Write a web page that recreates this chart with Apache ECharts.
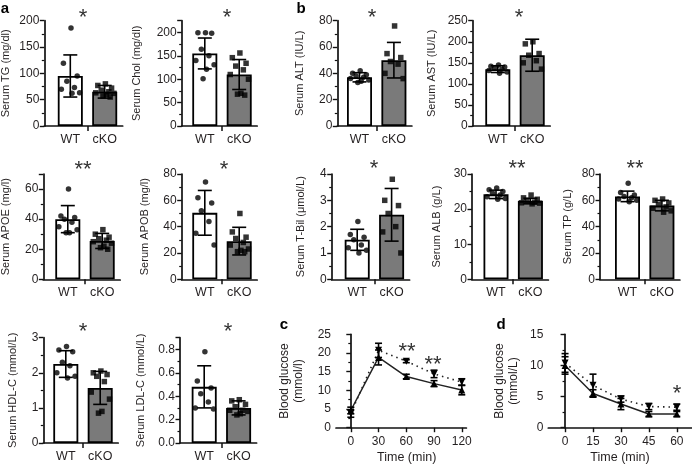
<!DOCTYPE html>
<html><head><meta charset="utf-8">
<script src="https://cdn.jsdelivr.net/npm/echarts@6/dist/echarts.min.js"></script>
<style>html,body{margin:0;padding:0;background:#fff}#c{width:692px;height:465px}</style>
</head><body><div id="c"></div>
<script>
// ---------------- DATA ----------------
const groups = ['WT', 'cKO'];

// panel a
const tgMean = [95, 65], tgSD = [40, 12];
const tgWT = [186, 119, 95, 85, 73, 63, 70, 62];
const tgKO = [80, 77, 72, 68, 65, 63, 62, 60, 57, 55];

const cholMean = [155, 110], cholSD = [33, 32];
const cholWT = [199, 199, 198, 164, 150, 140, 131, 121, 101];
const cholKO = [156, 146, 134, 128, 120, 110, 100, 70, 68, 66];

const apoeMean = [40, 25.5], apoeSD = [9, 5];
const apoeWT = [60, 42, 41, 40, 38, 35, 33, 31, 31];
const apoeKO = [33, 30, 28, 27, 26, 25, 24, 22, 21, 20];

const apobMean = [50.5, 29], apobSD = [17, 10.5];
const apobWT = [74, 62, 58, 52, 44, 35, 26];
const apobKO = [50, 36, 32, 31, 28, 26, 23, 22, 21, 21];

const hdlMean = [2.25, 1.57], hdlSD = [0.38, 0.47];
const hdlWT = [2.75, 2.65, 2.6, 2.3, 2.2, 2.0, 1.9, 1.85];
const hdlKO = [2.05, 2.0, 1.95, 1.9, 1.75, 1.45, 1.25, 0.85, 0.9];

const ldlMean = [0.48, 0.30], ldlSD = [0.18, 0.06];
const ldlWT = [0.78, 0.53, 0.47, 0.42, 0.35, 0.30, 0.29];
const ldlKO = [0.37, 0.36, 0.33, 0.31, 0.28, 0.27, 0.25, 0.24, 0.28];

// panel b
const altMean = [37, 50], altSD = [3.5, 13.5];
const altWT = [42, 40, 39, 38, 37, 36, 35, 34, 33];
const altKO = [76, 55, 52, 49, 47, 40, 36];

const astMean = [135, 168], astSD = [8, 38];
const astWT = [145, 142, 140, 137, 135, 132, 128, 125];
const astKO = [200, 195, 172, 168, 155, 150, 135];

const tbilMean = [1.5, 2.45], tbilSD = [0.4, 1.0];
const tbilWT = [2.2, 1.7, 1.6, 1.5, 1.3, 1.2, 1.0, 1.1];
const tbilKO = [3.8, 3.0, 2.8, 2.5, 2.0, 1.8, 1.0];

const albMean = [24.2, 22.3], albSD = [1.2, 0.8];
const albWT = [26, 25.5, 25, 24.5, 24, 23.5, 23, 22.8];
const albKO = [24, 23.2, 22.8, 22.4, 22.0, 21.8, 21.5, 21.7];

const tpMean = [63, 56], tpSD = [4, 4];
const tpWT = [73, 66, 64, 63, 62, 61, 60, 59];
const tpKO = [61, 60, 58, 57, 55, 54, 52, 51];

// panel c (glucose tolerance)
const cTime = [0, 30, 60, 90, 120];
const cTimeTicks = [0, 30, 60, 90, 120];
const cWT = [4.6, 18.8, 13.7, 11.8, 10.1], cWTsd = [0.9, 2.0, 0.6, 0.8, 1.3];
const cKO = [3.8, 20.7, 17.8, 14.4, 12.2], cKOsd = [1.0, 1.9, 0.4, 1.0, 0.9];

// panel d (insulin tolerance)
const dTime = [0, 15, 30, 45, 60];
const dTimeTicks = [0, 15, 30, 45, 60];
const dWT = [10.0, 5.5, 3.8, 2.2, 2.2], dWTsd = [1.4, 0.6, 0.9, 0.4, 0.4];
const dKO = [10.4, 6.8, 4.6, 3.4, 3.3], dKOsd = [1.5, 1.8, 0.5, 0.5, 0.5];

// ---------------- LAYOUT / STYLE ----------------
const FONT = '"Liberation Sans", Arial, sans-serif';
const TXT = '#231f20';
const AX = '#111';
const GREY = '#7a7a7a';
const UNIT = 34.4;      // px between WT and cKO bar centres
const RIGHT = 18;       // px after cKO centre
const jitter = [0.02, -0.2, 0.2, -0.1, 0.12, -0.26, 0.27, 0.05, -0.05, 0.16];

const barPanels = [
  {name:'Serum TG (mg/dl)',   mean:tgMean,  sd:tgSD,  wt:tgWT,  ko:tgKO,  max:200, step:50,  left:44.3, top:20.7, off:26.0, gap:31},
  {name:'Serum Chol (mg/dl)', mean:cholMean,sd:cholSD,wt:cholWT,ko:cholKO,max:225, step:50,  left:181.7,top:20.7, off:23.1, gap:38},
  {name:'Serum ALT (IU/L)',   mean:altMean, sd:altSD, wt:altWT, ko:altKO, max:80,  step:20,  left:337.3,top:20.7, off:22.2, gap:30},
  {name:'Serum AST (IU/L)',   mean:astMean, sd:astSD, wt:astWT, ko:astKO, max:250, step:50,  left:472.7,top:20.7, off:25.1, gap:34},
  {name:'Serum APOE (mg/l)',  mean:apoeMean,sd:apoeSD,wt:apoeWT,ko:apoeKO,max:70,  step:20,  left:43.3, top:174,  off:24.5, gap:30},
  {name:'Serum APOB (mg/l)',  mean:apobMean,sd:apobSD,wt:apobWT,ko:apobKO,max:80,  step:20,  left:181.7,top:174,  off:23.1, gap:30},
  {name:'Serum T-Bil (\u03bcmol/L)', mean:tbilMean,sd:tbilSD,wt:tbilWT,ko:tbilKO,max:4, step:1, left:331.7,top:174, off:25.5, gap:24},
  {name:'Serum ALB (g/L)',    mean:albMean, sd:albSD, wt:albWT, ko:albKO, max:30,  step:10,  left:472,  top:174,  off:24.0, gap:28},
  {name:'Serum TP (g/L)',     mean:tpMean,  sd:tpSD,  wt:tpWT,  ko:tpKO,  max:80,  step:20,  left:600,  top:174,  off:27.5, gap:25},
  {name:'Serum HDL-C (mmol/L)', mean:hdlMean,sd:hdlSD,wt:hdlWT,ko:hdlKO, max:3,   step:1,   left:43.3, top:337.7,off:22.5, gap:23},
  {name:'Serum LDL-C (mmol/L)', mean:ldlMean,sd:ldlSD,wt:ldlWT,ko:ldlKO, max:0.9, step:0.2, left:180,  top:337.7,off:24.2, gap:32, dec:1}
];
const PH = 105.3;

const stars = [
  ['*', 83, 14], ['*', 227, 14], ['*', 372, 14], ['*', 519, 14],
  ['**', 83, 166], ['*', 224, 166], ['*', 374, 165], ['**', 517, 165], ['**', 635, 165],
  ['*', 83, 328], ['*', 228, 328],
  ['**', 407, 348], ['**', 433, 361], ['*', 677, 390]
];
const letters = [['a', 5, 9], ['b', 301, 9], ['c', 284, 325], ['d', 501, 325]];

// ---------------- BUILD ----------------
function errRender(cap) {
  return function (params, api) {
    const x = api.value(0), m = api.value(1), s = api.value(2);
    const t = api.coord([x, m + s]), b = api.coord([x, m - s]);
    const st = {stroke: '#000', lineWidth: 1.6};
    return {type: 'group', children: [
      {type: 'line', shape: {x1: t[0], y1: t[1], x2: b[0], y2: b[1]}, style: st},
      {type: 'line', shape: {x1: t[0] - cap / 2, y1: t[1], x2: t[0] + cap / 2, y2: t[1]}, style: st},
      {type: 'line', shape: {x1: b[0] - cap / 2, y1: b[1], x2: b[0] + cap / 2, y2: b[1]}, style: st}
    ]};
  };
}
function yAxisBase(i, max, step, name, gap, dec) {
  return {
    gridIndex: i, type: 'value', min: 0, max: max, interval: step,
    name: name, nameLocation: 'middle', nameGap: gap, nameRotate: 90,
    nameTextStyle: {fontSize: 11, color: TXT, fontFamily: FONT, lineHeight: 14},
    axisLine: {show: true, lineStyle: {color: AX, width: 1.7}},
    axisTick: {show: true, length: 4.5, lineStyle: {color: AX, width: 1.4}},
    minorTick: {show: true, splitNumber: 2, length: 2.5, lineStyle: {color: AX, width: 1.2}},
    splitLine: {show: false}, minorSplitLine: {show: false},
    axisLabel: {fontSize: 12, color: TXT, fontFamily: FONT, margin: 5, showMaxLabel: (Math.abs(max / step - Math.round(max / step)) < 1e-9),
      formatter: v => dec ? v.toFixed(dec) : String(Math.round(v * 1000) / 1000)}
  };
}
function spread(vals, center) {
  const idx = vals.map((v, i) => i).sort((a, b) => vals[b] - vals[a]);
  const out = [];
  idx.forEach((k, r) => out.push([center + jitter[r % jitter.length], vals[k]]));
  return out;
}

const option = {animation: false, textStyle: {fontFamily: FONT}, grid: [], xAxis: [], yAxis: [], series: [], graphic: []};

barPanels.forEach((p, i) => {
  const xMin = 1 - p.off / UNIT;
  const width = p.off + UNIT + RIGHT;
  option.grid.push({left: p.left, top: p.top, width: width, height: PH, containLabel: false, outerBoundsMode: 'none'});
  option.xAxis.push({
    gridIndex: i, type: 'value', min: xMin, max: xMin + width / UNIT,
    axisLine: {show: true, onZero: false, lineStyle: {color: AX, width: 1.7}},
    axisTick: {show: true, customValues: [1.5], length: 5, lineStyle: {color: AX, width: 1.5}},
    axisLabel: {customValues: [1, 2], fontSize: 12.5, color: TXT, fontFamily: FONT, margin: 7,
      formatter: v => groups[Math.round(v) - 1] || ''},
    splitLine: {show: false}
  });
  option.yAxis.push(yAxisBase(i, p.max, p.step, p.name, p.gap, p.dec));
  option.series.push({
    type: 'bar', xAxisIndex: i, yAxisIndex: i, barWidth: 25, z: 1,
    data: p.mean.map((m, k) => ({value: [k + 1, m], itemStyle: {color: k === 0 ? '#fff' : GREY}})),
    itemStyle: {borderColor: '#000', borderWidth: 1.8}
  });
  option.series.push({
    type: 'scatter', xAxisIndex: i, yAxisIndex: i, symbol: 'circle', symbolSize: 5.5, z: 3,
    itemStyle: {color: '#000'}, data: spread(p.wt, 1)
  });
  option.series.push({
    type: 'scatter', xAxisIndex: i, yAxisIndex: i, symbol: 'rect', symbolSize: 5.5, z: 3,
    itemStyle: {color: '#000'}, data: spread(p.ko, 2)
  });
  option.series.push({
    type: 'custom', xAxisIndex: i, yAxisIndex: i, z: 4, renderItem: errRender(14),
    encode: {x: 0, y: 1},
    data: p.mean.map((m, k) => [k + 1, m, p.sd[k]])
  });
});

const linePanels = [
  {t: cTime, ticks: cTimeTicks, wt: cWT, wsd: cWTsd, ko: cKO, ksd: cKOsd, xmin: -16, xmax: 125, ymax: 25, ystep: 5,
   name: 'Blood glucose\n(mmol/l)', left: 336, top: 334.3, w: 130.4, gap: 30, pad: 11},
  {t: dTime, ticks: dTimeTicks, wt: dWT, wsd: dWTsd, ko: dKO, ksd: dKOsd, xmin: -9, xmax: 68, ymax: 15, ystep: 5,
   name: 'Blood glucose\n(mmol/L)', left: 548.3, top: 334.3, w: 143.4, gap: 28, pad: 0}
];
linePanels.forEach((p, j) => {
  const i = barPanels.length + j;
  option.grid.push({left: p.left, top: p.top, width: p.w, height: 93.4, containLabel: false, outerBoundsMode: 'none'});
  option.xAxis.push({
    gridIndex: i, type: 'value', min: p.xmin, max: p.xmax,
    name: 'Time (min)', nameLocation: 'middle', nameGap: 23,
    nameTextStyle: {fontSize: 12.5, color: TXT, fontFamily: FONT, padding: [0, 0, 0, p.pad]},
    axisLine: {show: true, onZero: false, lineStyle: {color: AX, width: 1.7}},
    axisTick: {show: true, customValues: p.ticks, length: 4.5, lineStyle: {color: AX, width: 1.4}},
    axisLabel: {customValues: p.ticks, fontSize: 12, color: TXT, fontFamily: FONT, margin: 8},
    splitLine: {show: false}
  });
  option.yAxis.push(yAxisBase(i, p.ymax, p.ystep, p.name, p.gap));
  option.yAxis[i].nameTextStyle.fontSize = 12;
  option.series.push({
    type: 'line', xAxisIndex: i, yAxisIndex: i, z: 3,
    data: p.t.map((x, k) => [x, p.ko[k]]),
    symbol: 'triangle', symbolRotate: 180, symbolSize: 7,
    lineStyle: {color: '#222', width: 1.6, type: [1.5, 4]}, itemStyle: {color: '#000'}
  });
  option.series.push({
    type: 'line', xAxisIndex: i, yAxisIndex: i, z: 3,
    data: p.t.map((x, k) => [x, p.wt[k]]),
    symbol: 'triangle', symbolSize: 7,
    lineStyle: {color: '#222', width: 1.5}, itemStyle: {color: '#000'}
  });
  option.series.push({
    type: 'custom', xAxisIndex: i, yAxisIndex: i, z: 4, renderItem: errRender(7), encode: {x: 0, y: 1},
    data: p.t.map((x, k) => [x, p.ko[k], p.ksd[k]]).concat(p.t.map((x, k) => [x, p.wt[k], p.wsd[k]]))
  });
});

stars.forEach(s => option.graphic.push({
  type: 'text', x: s[1], y: s[2] + 3.5, z: 10,
  style: {text: s[0], fontSize: 22, fontFamily: FONT, fill: '#333', align: 'center', verticalAlign: 'middle'}
}));
letters.forEach(l => option.graphic.push({
  type: 'text', x: l[1], y: l[2], z: 10,
  style: {text: l[0], fontSize: 15, fontWeight: 'bold', fontFamily: FONT, fill: '#000', align: 'center', verticalAlign: 'middle'}
}));

const chart = echarts.init(document.getElementById('c'), null, {renderer: 'canvas'});
chart.setOption(option);
</script></body></html>
